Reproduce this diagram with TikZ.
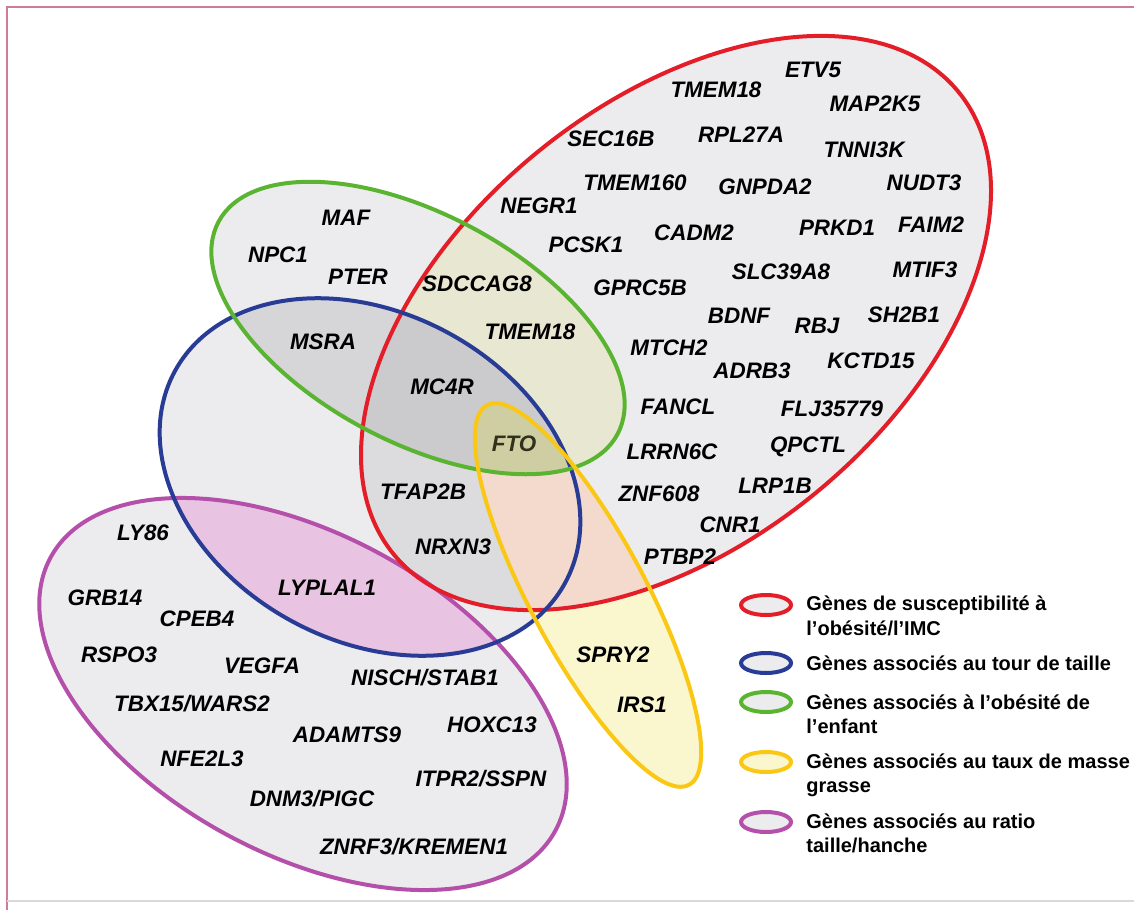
\documentclass[tikz,border=0pt]{standalone}
\usepackage{fontspec}
\setmainfont{Liberation Sans}
\definecolor{cbase}{RGB}{236,236,238}
\definecolor{crb}{RGB}{220,220,223}
\definecolor{cgb}{RGB}{214,214,217}
\definecolor{crgb}{RGB}{203,203,206}
\definecolor{crg}{RGB}{231,231,210}
\definecolor{cyel}{RGB}{250,246,205}
\definecolor{cry}{RGB}{243,218,204}
\definecolor{cgy}{RGB}{206,206,162}
\definecolor{cpb}{RGB}{232,196,226}
\definecolor{lred}{RGB}{228,30,40}
\definecolor{lblue}{RGB}{40,60,150}
\definecolor{lgreen}{RGB}{90,180,50}
\definecolor{lyellow}{RGB}{250,200,20}
\definecolor{lpurple}{RGB}{180,80,170}
\definecolor{frame}{RGB}{205,125,150}
\definecolor{ftotext}{RGB}{50,50,28}
\begin{document}
\begin{tikzpicture}[x=0.5pt,y=-0.5pt,
  gene/.style={font=\fontsize{11.2}{13}\selectfont\bfseries\itshape, inner sep=0pt},
  leg/.style={font=\fontsize{10}{12.2}\selectfont\bfseries, anchor=west, align=left, inner sep=0pt},
  sR/.style={shift={(676,323)},rotate=39.3},
  sB/.style={shift={(370,477)},rotate=-28.4},
  sG/.style={shift={(418,328)},rotate=-28},
  sY/.style={shift={(588,595)},rotate=-62},
  sP/.style={shift={(303,694)},rotate=-28.4},
  outl/.style={line width=2pt},
  icon/.style={line width=2pt}]
\def\eR{(0,0) ellipse [x radius=182.5pt, y radius=110pt]}
\def\eB{(0,0) ellipse [x radius=111pt, y radius=82pt]}
\def\eG{(0,0) ellipse [x radius=113pt, y radius=57pt]}
\def\eY{(0,0) ellipse [x radius=107.5pt, y radius=29pt]}
\def\eP{(0,0) ellipse [x radius=143.5pt, y radius=80pt]}
\useasboundingbox (0,0) rectangle (1134,910);
\fill[white] (0,0) rectangle (1134,910);
% frame
\draw[frame, line width=1pt] (7,910) -- (7,7) -- (1134,7);
\draw[black!15, line width=0.6pt] (7,901) -- (1134,901);
% base fills
\fill[cbase, sR] \eR;
\fill[cbase, sB] \eB;
\fill[cbase, sG] \eG;
\fill[cbase, sP] \eP;
\fill[cyel, sY] \eY;
% overlaps
\begin{scope}
  \clip[sR] \eR;
  \fill[crb, sB] \eB;
\end{scope}
\begin{scope}
  \clip[sB] \eB;
  \fill[cgb, sG] \eG;
\end{scope}
\begin{scope}
  \clip[sR] \eR;
  \fill[crg, sG] \eG;
  \begin{scope}
    \clip[sB] \eB;
    \fill[crgb, sG] \eG;
  \end{scope}
\end{scope}
\begin{scope}
  \clip[sR] \eR;
  \fill[cry, sY] \eY;
\end{scope}
\begin{scope}
  \clip[sG] \eG;
  \fill[cgy, sY] \eY;
\end{scope}
\begin{scope}
  \clip[sP] \eP;
  \fill[cpb, sB] \eB;
\end{scope}
% outlines
\draw[outl, lpurple, sP] \eP;
\draw[outl, lred, sR] \eR;
\draw[outl, lblue, sB] \eB;
\draw[outl, lgreen, sG] \eG;
\draw[outl, lyellow, sY] \eY;
% red-only genes
\node[gene] (etv5) at (813,70) {ETV5};
\node[gene] (tmem18a) at (716,90) {TMEM18};
\node[gene] (map2k5) at (875,104) {MAP2K5};
\node[gene] (sec16b) at (611,139) {SEC16B};
\node[gene] (rpl27a) at (741,135) {RPL27A};
\node[gene] (tnni3k) at (864,150) {TNNI3K};
\node[gene] (tmem160) at (635,183) {TMEM160};
\node[gene] (gnpda2) at (765,187) {GNPDA2};
\node[gene] (nudt3) at (924,183) {NUDT3};
\node[gene] (negr1) at (539,206) {NEGR1};
\node[gene] (pcsk1) at (586,245) {PCSK1};
\node[gene] (cadm2) at (694,233) {CADM2};
\node[gene] (prkd1) at (837,228) {PRKD1};
\node[gene] (faim2) at (931,225) {FAIM2};
\node[gene] (slc39a8) at (781,272) {SLC39A8};
\node[gene] (mtif3) at (925,270) {MTIF3};
\node[gene] (gprc5b) at (640,288) {GPRC5B};
\node[gene] (bdnf) at (739,316) {BDNF};
\node[gene] (rbj) at (817,326) {RBJ};
\node[gene] (sh2b1) at (904,315) {SH2B1};
\node[gene] (mtch2) at (669,348) {MTCH2};
\node[gene] (adrb3) at (752,371) {ADRB3};
\node[gene] (kctd15) at (871,361) {KCTD15};
\node[gene] (fancl) at (678,407) {FANCL};
\node[gene] (flj) at (832,409) {FLJ35779};
\node[gene] (lrrn6c) at (672,452) {LRRN6C};
\node[gene] (qpctl) at (808,447) {QPCTL};
\node[gene] (znf608) at (659,494) {ZNF608};
\node[gene] (lrp1b) at (775,486) {LRP1B};
\node[gene] (cnr1) at (730,525) {CNR1};
\node[gene] (ptbp2) at (680,557) {PTBP2};
% green / overlaps
\node[gene] (maf) at (346,218) {MAF};
\node[gene] (npc1) at (278,255) {NPC1};
\node[gene] (pter) at (358,277) {PTER};
\node[gene] (sdccag8) at (477,284) {SDCCAG8};
\node[gene] (tmem18b) at (530,332) {TMEM18};
\node[gene] (msra) at (323,342) {MSRA};
\node[gene] (mc4r) at (442,387) {MC4R};
\node[gene, text=ftotext] (fto) at (514,444) {FTO};
\node[gene] (tfap2b) at (423,492) {TFAP2B};
\node[gene] (nrxn3) at (453,547) {NRXN3};
% purple
\node[gene] (ly86) at (143,533) {LY86};
\node[gene] (lyplal1) at (327,588) {LYPLAL1};
\node[gene] (grb14) at (105,598) {GRB14};
\node[gene] (cpeb4) at (197,619) {CPEB4};
\node[gene] (rspo3) at (119,655) {RSPO3};
\node[gene] (vegfa) at (262,666) {VEGFA};
\node[gene] (nisch) at (425,678) {NISCH/STAB1};
\node[gene] (tbx15) at (192,704) {TBX15/WARS2};
\node[gene] (adamts9) at (347,735) {ADAMTS9};
\node[gene] (hoxc13) at (492,725) {HOXC13};
\node[gene] (nfe2l3) at (202,759) {NFE2L3};
\node[gene] (itpr2) at (481,779) {ITPR2/SSPN};
\node[gene] (dnm3) at (312,799) {DNM3/PIGC};
\node[gene] (znrf3) at (414,847) {ZNRF3/KREMEN1};
% yellow
\node[gene] (spry2) at (613,655) {SPRY2};
\node[gene] (irs1) at (642,705) {IRS1};
% legend
\draw[lred, icon, fill=cbase] (766,605) ellipse [x radius=12.5pt, y radius=5pt];
\draw[lblue, icon, fill=cbase] (766,663) ellipse [x radius=12.5pt, y radius=5pt];
\draw[lgreen, icon, fill=cbase] (766,702) ellipse [x radius=12.5pt, y radius=5pt];
\draw[lyellow, icon, fill=cyel] (766,762) ellipse [x radius=12.5pt, y radius=5pt];
\draw[lpurple, icon, fill=cbase] (766,822) ellipse [x radius=12.5pt, y radius=5pt];
\node[leg] (l1) at (806,616) {Gènes de susceptibilité à\\l’obésité/l’IMC};
\node[leg] (l2) at (806,663) {Gènes associés au tour de taille};
\node[leg] (l3) at (806,714.5) {Gènes associés à l’obésité de\\l’enfant};
\node[leg] (l4) at (806,775) {Gènes associés au taux de masse\\grasse};
\node[leg] (l5) at (806,833.5) {Gènes associés au ratio\\taille/hanche};
\end{tikzpicture}
\end{document}
